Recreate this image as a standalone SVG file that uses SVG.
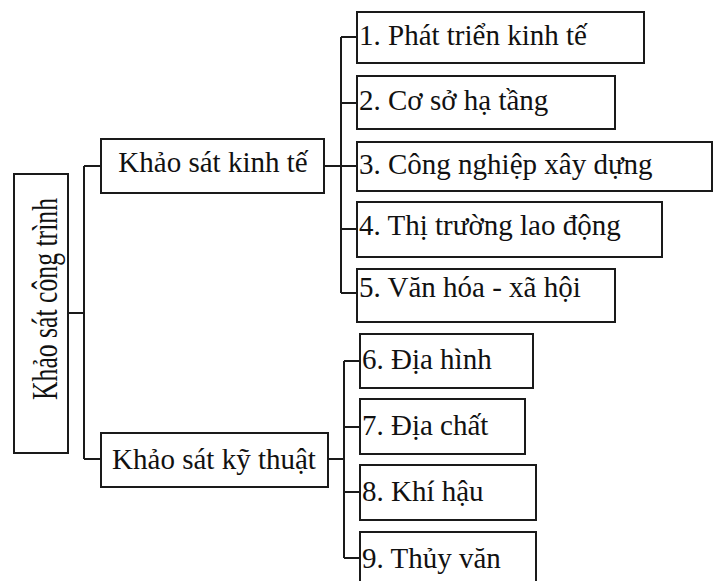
<svg xmlns="http://www.w3.org/2000/svg" width="713" height="581" viewBox="0 0 713 581">
<style>
.box{fill:#fff;stroke:#1a1a1a;stroke-width:2}
.t{font-family:"Liberation Serif","Times New Roman",serif;font-size:29px;fill:#111}
.c{text-anchor:middle}
.ln{fill:none;stroke:#1a1a1a;stroke-width:2}
</style>
<rect width="713" height="581" fill="#fff"/>
<g id="connectors" class="ln">
<path d="M68 313H84M84 166V459M84 166H101M84 459H101"/>
<path d="M324 166H341M341 37V293M341 37H357M341 103H357M341 166H357M341 229H357M341 293H357"/>
<path d="M328 459H344M344 361V558M344 361H360M344 427H360M344 492H360M344 558H360"/>
</g>
<g id="root">
<rect class="box" x="14" y="174" width="54" height="279"/>
<text class="t c" transform="translate(57,299) rotate(-90)" font-size="35" textLength="202" lengthAdjust="spacingAndGlyphs" style="font-size:35px">Khảo sát công trình</text>
</g>
<g id="kinhte">
<rect class="box" x="101" y="139" width="223" height="54"/>
<text class="t c" x="213" y="172">Khảo sát kinh tế</text>
</g>
<g id="kythuat">
<rect class="box" x="101" y="433" width="227" height="54"/>
<text class="t c" x="214" y="469">Khảo sát kỹ thuật</text>
</g>
<g id="n1">
<rect class="box" x="357" y="12" width="287" height="51"/>
<text class="t" x="359" y="45">1. Phát triển kinh tế</text>
</g>
<g id="n2">
<rect class="box" x="357" y="76" width="258" height="53"/>
<text class="t" x="359" y="110">2. Cơ sở hạ tầng</text>
</g>
<g id="n3">
<rect class="box" x="357" y="142" width="355" height="49"/>
<text class="t" x="359" y="174">3. Công nghiệp xây dựng</text>
</g>
<g id="n4">
<rect class="box" x="357" y="202" width="305" height="55"/>
<text class="t" x="359" y="235">4. Thị trường lao động</text>
</g>
<g id="n5">
<rect class="box" x="357" y="269" width="258" height="53"/>
<text class="t" x="359" y="297">5. Văn hóa - xã hội</text>
</g>
<g id="n6">
<rect class="box" x="360" y="334" width="173" height="54"/>
<text class="t" x="362" y="369">6. Địa hình</text>
</g>
<g id="n7">
<rect class="box" x="360" y="399" width="165" height="55"/>
<text class="t" x="362" y="435">7. Địa chất</text>
</g>
<g id="n8">
<rect class="box" x="360" y="465" width="176" height="55"/>
<text class="t" x="362" y="501">8. Khí hậu</text>
</g>
<g id="n9">
<rect class="box" x="360" y="532" width="176" height="60"/>
<text class="t" x="362" y="568">9. Thủy văn</text>
</g>
</svg>
